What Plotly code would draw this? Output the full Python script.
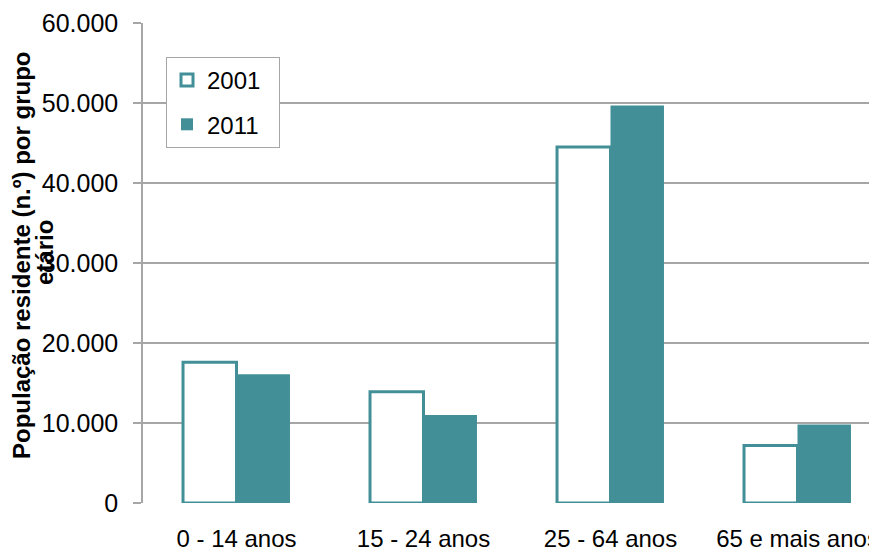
import plotly.graph_objects as go

categories = ["0 - 14 anos", "15 - 24 anos", "25 - 64 anos", "65 e mais anos"]
values_2001 = [17600, 13900, 44500, 7200]
values_2011 = [16100, 11000, 49700, 9800]
series_names = ["2001", "2011"]
y_ticks = [0, 10000, 20000, 30000, 40000, 50000, 60000]

teal = "#438F97"
grid = "#A6A6A6"
FONT = "Liberation Sans, Arial, sans-serif"
PAD = "\u00a0\u00a0"  # widens the legend box like the reference

OFF = 8  # page body margin
W, H = 877 - OFF, 551 - OFF
L, R, T, B = 143 - OFF, 0, 23 - OFF, 48
pw = W - L - R
ph = H - T - B

fig = go.Figure()
fig.add_trace(go.Bar(
    x=categories, y=values_2001, name=series_names[0] + PAD,
    marker=dict(color="white", line=dict(color=teal, width=3)),
    legendgroup="a",
))
fig.add_trace(go.Bar(
    x=categories, y=values_2011, name=series_names[1] + PAD,
    marker=dict(color=teal, line=dict(color=teal, width=0)),
    legendgroup="b",
))

# helpers: convert page pixel coords to paper coords
def px_x(p):
    return (p - OFF - L) / pw

def px_y(p):
    return (H - B - (p - OFF)) / ph

fig.add_annotation(
    text="<b>População residente (n.º) por grupo</b>", textangle=-90,
    xref="paper", yref="paper", x=px_x(21), y=px_y(256),
    xanchor="center", yanchor="middle", showarrow=False,
    font=dict(family=FONT, size=24, color="black"),
)
fig.add_annotation(
    text="<b>etário</b>", textangle=-90,
    xref="paper", yref="paper", x=px_x(45), y=px_y(253),
    xanchor="center", yanchor="middle", showarrow=False,
    font=dict(family=FONT, size=24, color="black"),
)

fig.update_layout(
    width=W, height=H,
    margin=dict(l=L, r=R, t=T, b=B, autoexpand=False),
    paper_bgcolor="white", plot_bgcolor="white",
    separators=",.",
    barmode="group", bargap=0.428, bargroupgap=0,
    font=dict(family=FONT, size=24, color="black"),
    showlegend=True,
    legend=dict(
        x=px_x(166), y=px_y(57), xanchor="left", yanchor="top",
        bordercolor=grid, borderwidth=1, bgcolor="white",
        font=dict(family=FONT, size=24, color="black"),
        traceorder="grouped", tracegroupgap=10,
    ),
    xaxis=dict(
        range=[-0.5, -0.5 + pw / 187.0],
        showgrid=False, showline=False, ticks="", zeroline=False,
        tickfont=dict(family=FONT, size=24, color="black"),
        ticklabelstandoff=19, automargin=False,
    ),
    yaxis=dict(
        range=[0, 60000], tickvals=y_ticks, tickformat=",d",
        showgrid=True, gridcolor=grid, gridwidth=1.5,
        showline=True, linecolor=grid, linewidth=1.5,
        ticks="outside", ticklen=8, tickcolor=grid, tickwidth=1.5,
        zeroline=False,
        tickfont=dict(family=FONT, size=25, color="black"),
        ticklabelstandoff=10, automargin=False,
    ),
)

fig.write_html("out.html")
